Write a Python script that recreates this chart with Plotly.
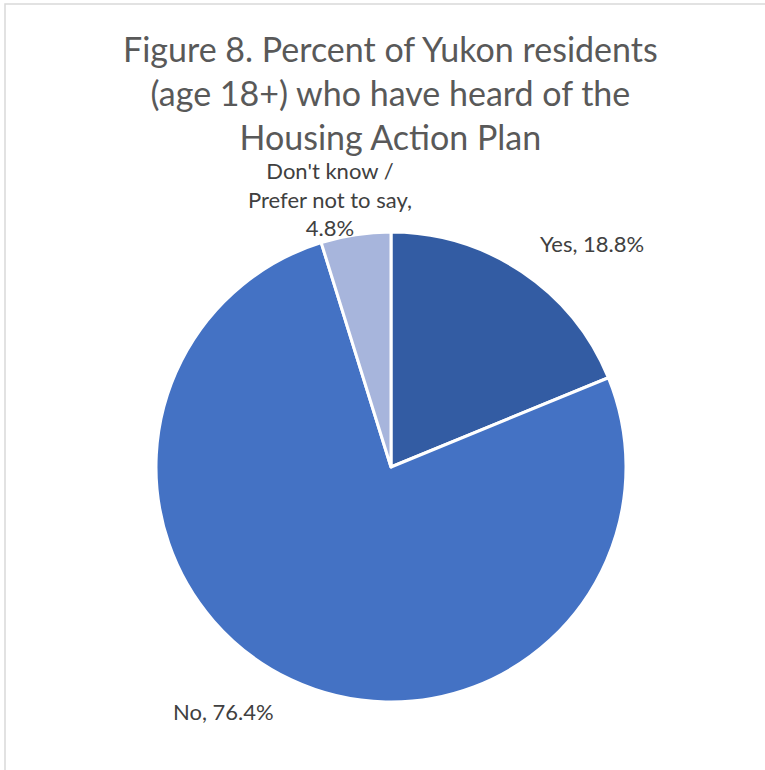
import math
import plotly.graph_objects as go

categories = ["Yes", "No", "Don't know / Prefer not to say"]
label_text = ["Yes, 18.8%", "No, 76.4%", "Don't know /<br>Prefer not to say,<br>4.8%"]
values = [18.8, 76.4, 4.8]
colors = ["#335CA3", "#4472C4", "#A7B5DC"]
title_text = "Figure 8. Percent of Yukon residents<br>(age 18+) who have heard of the<br>Housing Action Plan"

W, H = 765, 770
cx, cy, R = 391, 467, 235  # pixel geometry of pie

fig = go.Figure()
fig.add_trace(go.Pie(
    labels=categories,
    values=values,
    sort=False,
    direction="clockwise",
    rotation=0,
    marker=dict(colors=colors, line=dict(color="white", width=3)),
    textinfo="none",
    hoverinfo="label+percent",
    showlegend=False,
    domain=dict(x=[(cx - R) / W, (cx + R) / W], y=[1 - (cy + R) / H, 1 - (cy - R) / H]),
))

# data labels positioned from slice mid-angles
total = sum(values)
cum = 0
anchors = ["left", "right", "center"]
xshifts = [-3, 0, -20]
yshifts = [-1, 0, 1]
for v, t, anc, xs, ys in zip(values, label_text, anchors, xshifts, yshifts):
    mid = (cum + v / 2) / total * 2 * math.pi
    cum += v
    r = 1.15 * R
    px = cx + r * math.sin(mid)
    py = cy - r * math.cos(mid)
    fig.add_annotation(
        x=px / W, y=1 - py / H, xref="paper", yref="paper",
        text=t, showarrow=False, xanchor=anc, yanchor="middle", xshift=xs, yshift=ys,
        font=dict(family="Lato", size=22, color="#404040"),
    )

# title
fig.add_annotation(
    x=cx / W, y=1 - 93 / H, xref="paper", yref="paper",
    text=title_text, showarrow=False, xanchor="center", yanchor="middle",
    font=dict(family="Lato", size=34, color="#595959"),
)

fig.add_shape(type="rect", xref="paper", yref="paper",
              x0=5 / W, x1=1.02, y0=-0.02, y1=1 - 4 / H,
              line=dict(color="#D9D9D9", width=1.5))

fig.update_layout(
    width=W, height=H,
    margin=dict(l=0, r=0, t=0, b=0),
    paper_bgcolor="white", plot_bgcolor="white",
)

fig.write_html("out.html", config={"displayModeBar": False},
               post_script="document.body.style.margin='0';document.body.style.overflow='hidden';")
